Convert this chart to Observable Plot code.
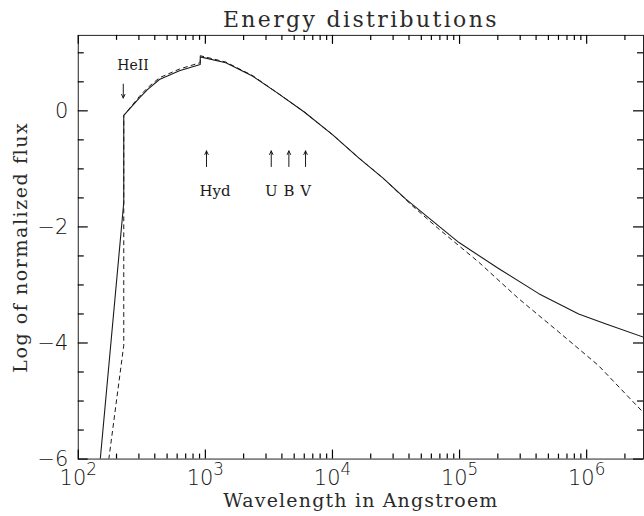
<!DOCTYPE html>
<html><head><meta charset="utf-8">
<script src="https://cdn.jsdelivr.net/npm/d3@7"></script>
<script src="https://cdn.jsdelivr.net/npm/@observablehq/plot@0.6"></script>
<style>
html,body{margin:0;padding:0;background:#fff;overflow:hidden;}
</style></head><body><div id="chart"></div>
<script>
// Solid model (wavelength in Angstroem, log of normalized flux)
const solidLambda = [149, 228, 228, 303, 352, 435, 625, 911, 912, 1449, 2344, 3681, 6000, 10000, 16070, 25000, 37800, 99000, 204000, 420000, 865000, 1403000, 2800000];
const solidLogF   = [-6, -1.58, -0.08, 0.225, 0.37, 0.54, 0.69, 0.80, 0.93, 0.83, 0.60, 0.31, -0.02, -0.41, -0.81, -1.16, -1.52, -2.27, -2.72, -3.15, -3.50, -3.67, -3.90];
// Dashed model
const dashLambda = [174, 228, 228, 303, 352, 435, 625, 911, 912, 1449, 2344, 3681, 6000, 10000, 16070, 25000, 42700, 69000, 142000, 293000, 603000, 1241000, 2265000, 2800000];
const dashLogF   = [-6, -4.04, -0.08, 0.25, 0.40, 0.57, 0.72, 0.83, 0.95, 0.84, 0.61, 0.31, -0.02, -0.41, -0.81, -1.16, -1.64, -2.04, -2.61, -3.24, -3.81, -4.39, -4.99, -5.20];

// Axis ticks
const xMajorTicks = [1e2, 1e3, 1e4, 1e5, 1e6];
const xMinorTicks = [200,300,400,500,600,700,800,900, 2e3,3e3,4e3,5e3,6e3,7e3,8e3,9e3, 2e4,3e4,4e4,5e4,6e4,7e4,8e4,9e4, 2e5,3e5,4e5,5e5,6e5,7e5,8e5,9e5, 2e6];
const yMajorTicks = [-6, -4, -2, 0];
const yMinorTicks = [-5.5, -5, -4.5, -3.5, -3, -2.5, -1.5, -1, -0.5, 0.5, 1];

// Annotations: spectral features
const featureLabels = ["HeII", "Hyd", "U", "B", "V"];
const featureLambda = [226, 1021, 3300, 4540, 6140];
const arrowFrom = [0.46, -0.96, -0.96, -0.96, -0.96];
const arrowTo   = [0.22, -0.69, -0.69, -0.69, -0.69];
const labelLogF = [0.78, -1.39, -1.39, -1.39, -1.39];

const titleText = "Energy distributions";
const xLabel = "Wavelength in Angstroem";
const yLabel = "Log of normalized flux";

const solid = solidLambda.map((l, i) => ({l, f: solidLogF[i]}));
const dashed = dashLambda.map((l, i) => ({l, f: dashLogF[i]}));
const features = featureLabels.map((name, i) => ({name, l: featureLambda[i], a1: arrowFrom[i], a2: arrowTo[i], t: labelLogF[i]}));

const W = 646, H = 516, mL = 78, mR = 1, mT = 35, mB = 56;
const xDomain = [100, 2.8e6], yDomain = [-6, 1.3];
const innerH = H - mT - mB, innerW = W - mL - mR;
// pixel lengths of tick marks converted to data units
const yPerPx = (yDomain[1] - yDomain[0]) / innerH;
const decPerPx = Math.log10(xDomain[1] / xDomain[0]) / innerW;
const tickLenX = (px) => px * yPerPx;
const tickFac = (px) => Math.pow(10, px * decPerPx);

const ink = "#1a1a1a";
const tickInk = "black";
const serif = "'DejaVu Serif', serif";
const sans = "'DejaVu Sans', sans-serif";

const chart = Plot.plot({
  width: W, height: H,
  marginLeft: mL, marginRight: mR, marginTop: mT, marginBottom: mB,
  x: {type: "log", domain: xDomain, axis: null},
  y: {domain: yDomain, axis: null},
  marks: [
    Plot.line(dashed, {x: "l", y: "f", stroke: ink, strokeWidth: 1, strokeDasharray: "4,4", clip: true}),
    Plot.line(solid, {x: "l", y: "f", stroke: ink, strokeWidth: 1.1, clip: true}),
    // tick labels
    Plot.text(xMajorTicks, {x: d => d, y: yDomain[0], text: d => "10^" + Math.round(Math.log10(d)), lineAnchor: "top", dy: 11,
      fontSize: 21, fontFamily: sans, fontWeight: 200, fill: "#111"}),
    Plot.text(yMajorTicks, {x: xDomain[0], y: d => d, text: d => d < 0 ? "\u2212" + Math.abs(d) : String(d), textAnchor: "end", dx: -10,
      fontSize: 21, fontFamily: sans, fontWeight: 200, fill: "#111"}),
    // titles
    Plot.text([titleText], {frameAnchor: "top", lineAnchor: "bottom", dy: -8, fontSize: 22, fontFamily: serif, fill: "#2a2a2a"}),
    Plot.text([xLabel], {frameAnchor: "bottom", lineAnchor: "bottom", dy: 48, fontSize: 19, fontFamily: serif, fill: "#2a2a2a"}),
    Plot.text([yLabel], {frameAnchor: "left", textAnchor: "middle", rotate: -90, dx: -58, fontSize: 19, fontFamily: serif, fill: "#2a2a2a"}),
    // annotations
    Plot.arrow(features, {x1: "l", x2: "l", y1: "a1", y2: "a2", stroke: ink, strokeWidth: 1, headLength: 6, headAngle: 50}),
    Plot.text(features.filter(d => d.name === "HeII"), {x: "l", y: "t", text: "name", fontSize: 14, fontFamily: serif, fill: ink, textAnchor: "start", dx: -6}),
    Plot.text(features.filter(d => d.name === "Hyd"), {x: "l", y: "t", text: "name", fontSize: 15, fontFamily: serif, fill: ink, textAnchor: "start", dx: -7}),
    Plot.text(features.filter(d => d.name.length === 1), {x: "l", y: "t", text: "name", fontSize: 15, fontFamily: serif, fill: ink}),
    // box and inward ticks, drawn last
    Plot.frame({stroke: "#222"}),
    Plot.ruleX(xMajorTicks, {x: d => d, y1: yDomain[0], y2: yDomain[0] + tickLenX(9), stroke: tickInk, strokeWidth: 1.2}),
    Plot.ruleX(xMajorTicks, {x: d => d, y1: yDomain[1], y2: yDomain[1] - tickLenX(9), stroke: tickInk, strokeWidth: 1.2}),
    Plot.ruleX(xMinorTicks, {x: d => d, y1: yDomain[0], y2: yDomain[0] + tickLenX(5), stroke: tickInk, strokeWidth: 1.2}),
    Plot.ruleX(xMinorTicks, {x: d => d, y1: yDomain[1], y2: yDomain[1] - tickLenX(5), stroke: tickInk, strokeWidth: 1.2}),
    Plot.ruleY(yMajorTicks, {y: d => d, x1: xDomain[0], x2: xDomain[0] * tickFac(10), stroke: tickInk, strokeWidth: 1.2}),
    Plot.ruleY(yMajorTicks, {y: d => d, x1: xDomain[1], x2: xDomain[1] / tickFac(10), stroke: tickInk, strokeWidth: 1.2}),
    Plot.ruleY(yMinorTicks, {y: d => d, x1: xDomain[0], x2: xDomain[0] * tickFac(6), stroke: tickInk, strokeWidth: 1.2}),
    Plot.ruleY(yMinorTicks, {y: d => d, x1: xDomain[1], x2: xDomain[1] / tickFac(6), stroke: tickInk, strokeWidth: 1.2})
  ]
});

const svg = d3.select(chart);
// turn "10^k" tick labels into base + superscript; widen letter spacing of titles
svg.selectAll("text").each(function() {
  const t = this.textContent;
  const m = /^10\^(\d)$/.exec(t);
  if (m) {
    const sel = d3.select(this);
    sel.text(null);
    sel.append("tspan").text("10");
    sel.append("tspan").attr("dy", "-0.6em").attr("font-size", "0.8em").text(m[1]);
  } else if (t === titleText) {
    this.style.letterSpacing = "2.4px";
  } else if (t === xLabel) {
    this.style.letterSpacing = "1.2px";
  } else if (t === yLabel) {
    this.style.letterSpacing = "1.6px";
  }
});
document.getElementById("chart").appendChild(chart);
</script></body></html>
